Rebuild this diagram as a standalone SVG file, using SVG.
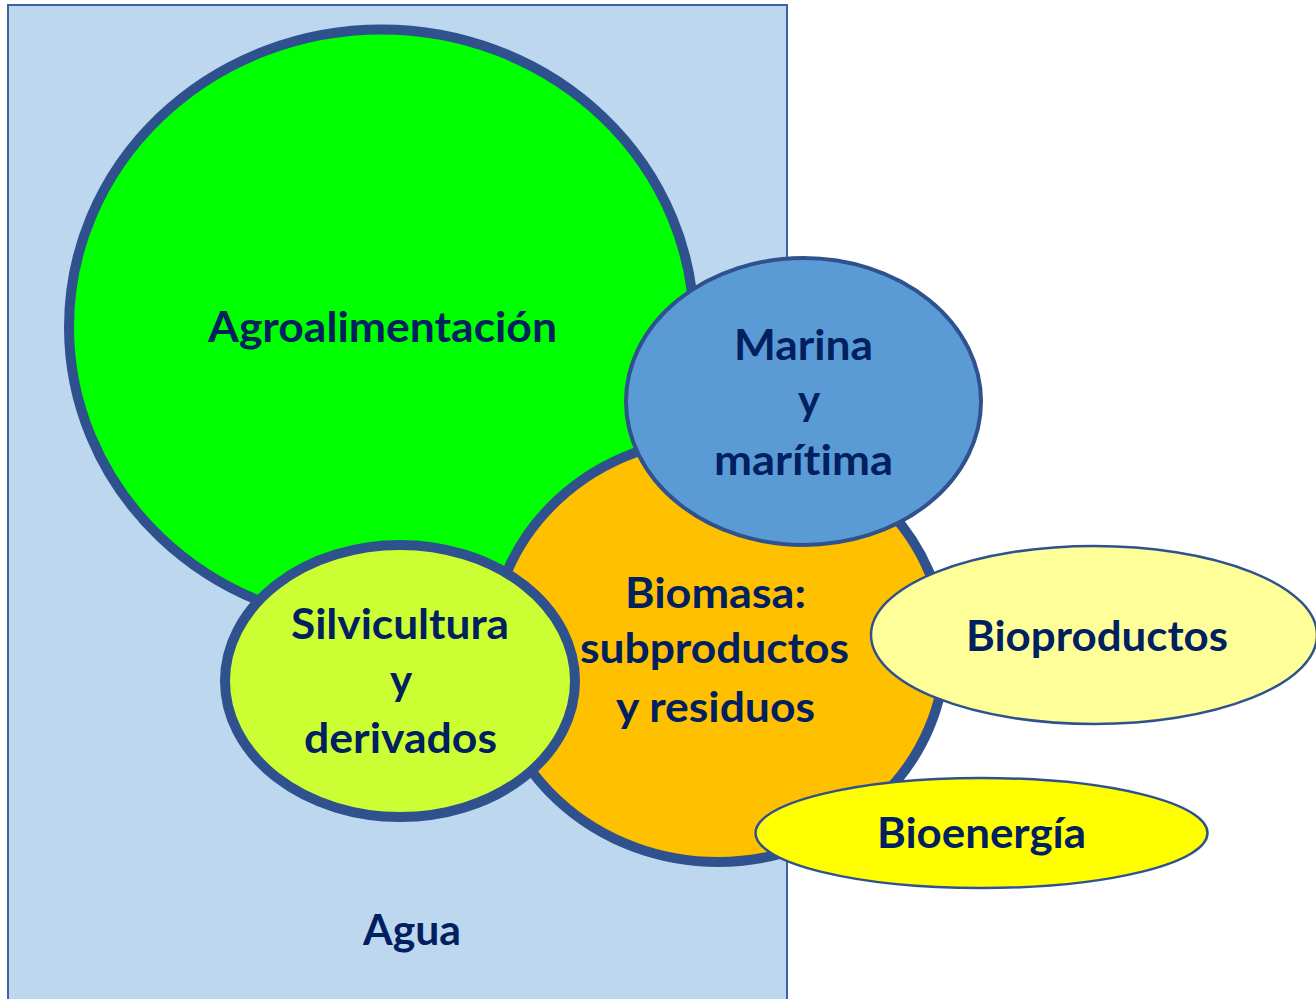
<svg xmlns="http://www.w3.org/2000/svg" width="1316" height="999" viewBox="0 0 1316 999">
<style>
.lbl{font-family:Lato,"Open Sans","Liberation Sans",sans-serif;font-weight:700;font-size:42px;fill:#002060;text-anchor:middle;font-variant-ligatures:none}
.thick{stroke:#2F528F;stroke-width:10}
.thin{stroke:#2F528F;stroke-width:2.5}
</style>
<rect width="1316" height="999" fill="#FFFFFF"/>
<g id="agua">
<rect x="8" y="5" width="779" height="1010" fill="#BDD7EE" stroke="#3F62A4" stroke-width="2"/>
<text class="lbl" x="412" y="945" textLength="98" lengthAdjust="spacingAndGlyphs">Agua</text>
</g>
<g id="agroalimentacion">
<ellipse cx="381.5" cy="327" rx="312.5" ry="297.5" fill="#00FF00" class="thick" stroke-width="11"/>
<text class="lbl" x="382.5" y="342" textLength="349" lengthAdjust="spacingAndGlyphs">Agroalimentación</text>
</g>
<g id="biomasa">
<ellipse cx="718" cy="650" rx="227" ry="212" fill="#FFC000" class="thick"/>
<text class="lbl" x="715.5" y="608" textLength="181" lengthAdjust="spacingAndGlyphs">Biomasa:</text>
<text class="lbl" x="714.5" y="663" textLength="269" lengthAdjust="spacingAndGlyphs">subproductos</text>
<text class="lbl" x="715.5" y="722" textLength="199" lengthAdjust="spacingAndGlyphs">y residuos</text>
</g>
<g id="marina">
<ellipse cx="803.5" cy="401.5" rx="177.5" ry="143.5" fill="#5B9BD5" stroke="#2F528F" stroke-width="4"/>
<text class="lbl" x="803.5" y="360" textLength="139" lengthAdjust="spacingAndGlyphs">Marina</text>
<text class="lbl" x="809" y="415">y</text>
<text class="lbl" x="803.5" y="475" textLength="179" lengthAdjust="spacingAndGlyphs">marítima</text>
</g>
<g id="silvicultura">
<ellipse cx="400" cy="681" rx="175" ry="136" fill="#CCFF33" class="thick"/>
<text class="lbl" x="400" y="639" textLength="218" lengthAdjust="spacingAndGlyphs">Silvicultura</text>
<text class="lbl" x="401" y="695">y</text>
<text class="lbl" x="400.5" y="753" textLength="193" lengthAdjust="spacingAndGlyphs">derivados</text>
</g>
<g id="bioproductos">
<ellipse cx="1094" cy="635" rx="223" ry="89" fill="#FFFF99" class="thin"/>
<text class="lbl" x="1097" y="651" textLength="262" lengthAdjust="spacingAndGlyphs">Bioproductos</text>
</g>
<g id="bioenergia">
<ellipse cx="981.5" cy="833" rx="226" ry="55" fill="#FFFF00" class="thin"/>
<text class="lbl" x="981.5" y="848" textLength="209" lengthAdjust="spacingAndGlyphs">Bioenergía</text>
</g>
</svg>
